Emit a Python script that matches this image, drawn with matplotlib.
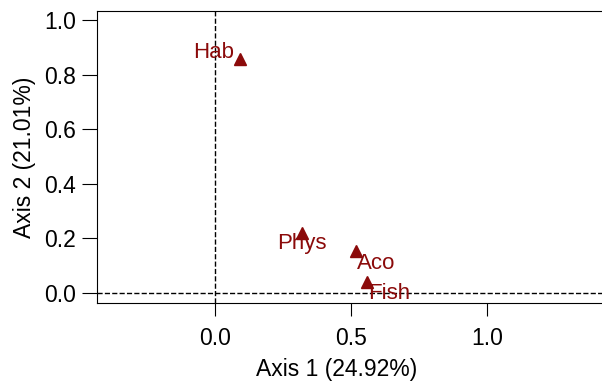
import matplotlib
matplotlib.use("Agg")
import matplotlib.pyplot as plt

plt.rcParams['font.family'] = ['Liberation Sans', 'DejaVu Sans']

# Koordinaten der Variablen
labels = ["Hab", "Phys", "Aco", "Fish"]
ax1 = [0.092, 0.32, 0.518, 0.559]
ax2 = [0.857, 0.22, 0.154, 0.04]

# Versatz der Beschriftungen (Punkte) und Ausrichtung
offsets = [(-4, 5), (0, -8), (1, -9), (1, -8)]
aligns = [("right", "center"), ("center", "center"), ("left", "center"), ("left", "center")]

xticks = [0.0, 0.5, 1.0]
yticks = [0.0, 0.2, 0.4, 0.6, 0.8, 1.0]

rot = "#8b0a0a"

fig = plt.figure(figsize=(6.02, 3.82), dpi=100)
ax = fig.add_axes([97 / 602, 79 / 382, 505 / 602, 292 / 382])

ax.axhline(0, color="black", linestyle="--", lw=1)
ax.axvline(0, color="black", linestyle="--", lw=1)

ax.plot(ax1, ax2, linestyle="none", marker="^", color=rot, markersize=9)
for lab, x, y, off, al in zip(labels, ax1, ax2, offsets, aligns):
    ax.annotate(lab, (x, y), xytext=off, textcoords="offset points",
                ha=al[0], va=al[1], color=rot, fontsize=16)

ax.set_xlim(-0.434, 1.423)
ax.set_ylim(-0.037, 1.033)
ax.set_xticks(xticks)
ax.set_yticks(yticks)
ax.set_xticklabels([f"{v:.1f}" for v in xticks])
ax.set_yticklabels([f"{v:.1f}" for v in yticks])
ax.tick_params(axis="x", length=9, pad=8, labelsize=16.5)
ax.tick_params(axis="y", length=11, pad=4, labelsize=16.5)
ax.spines["right"].set_visible(False)

ax.set_xlabel("Axis 1 (24.92%)", fontsize=16.5, labelpad=6)
ax.xaxis.set_label_coords(0.475, -0.19)
ax.set_ylabel("Axis 2 (21.01%)", fontsize=16.5, labelpad=6)

fig.savefig("out.png", dpi=100)
